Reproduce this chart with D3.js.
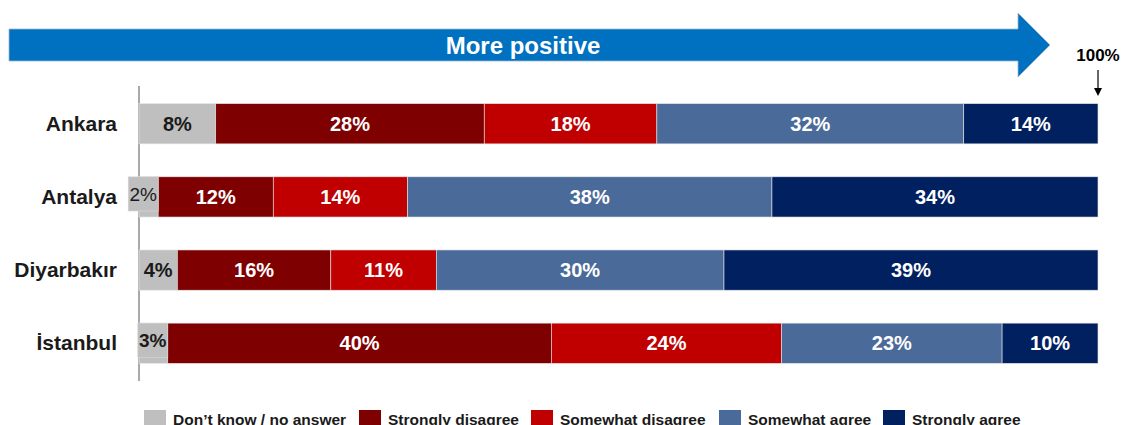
<!DOCTYPE html>
<html>
<head>
<meta charset="utf-8">
<script src="https://cdn.jsdelivr.net/npm/d3@7"></script>
<style>
  body { margin: 0; background: #fff; }
  text { font-family: "Liberation Sans", Arial, sans-serif; }
</style>
</head>
<body>
<svg id="chart" width="1123" height="425"></svg>
<script>
// data
var cities = ["Ankara", "Antalya", "Diyarbakır", "İstanbul"];
var categories = ["Don’t know / no answer", "Strongly disagree", "Somewhat disagree", "Somewhat agree", "Strongly agree"];
var dontKnow = [8, 2, 4, 3];
var stronglyDisagree = [28, 12, 16, 40];
var somewhatDisagree = [18, 14, 11, 24];
var somewhatAgree = [32, 38, 30, 23];
var stronglyAgree = [14, 34, 39, 10];
var colors = ["#BFBFBF", "#7F0000", "#C00000", "#4A6A9A", "#002060"];

var series = [dontKnow, stronglyDisagree, somewhatDisagree, somewhatAgree, stronglyAgree];

var svg = d3.select("#chart");

var x = d3.scaleLinear().domain([0, 100]).range([139, 1098]);
var y = d3.scaleBand().domain(cities).range([89, 378]).paddingInner(0.45).paddingOuter(0.2);

// build stacked table
var rows = cities.map(function(c, i) {
    var r = { city: c };
    categories.forEach(function(k, j) { r[k] = series[j][i]; });
    return r;
});
var stacked = d3.stack().keys(categories)(rows);

//draw the big arrow
var arrow = d3.path();
arrow.moveTo(9, 29);
arrow.lineTo(1018, 29);
arrow.lineTo(1018, 13);
arrow.lineTo(1050, 45);
arrow.lineTo(1018, 77);
arrow.lineTo(1018, 61);
arrow.lineTo(9, 61);
arrow.closePath();
svg.append("path")
    .attr("d", arrow.toString())
    .attr("fill", "#0070C0")
    .attr("stroke", "#9DB7CF")
    .attr("stroke-width", 0.8);

svg.append("text")
    .attr("x", 523)
    .attr("y", 54)
    .attr("text-anchor", "middle")
    .attr("fill", "white")
    .attr("font-size", 24)
    .attr("font-weight", "bold")
    .text("More positive");

//100% marker
svg.append("text")
    .attr("x", x(100))
    .attr("y", 61)
    .attr("text-anchor", "middle")
    .attr("font-size", 17)
    .attr("font-weight", "bold")
    .text("100%");
svg.append("line")
    .attr("x1", x(100)).attr("x2", x(100))
    .attr("y1", 70).attr("y2", 90)
    .attr("stroke", "black").attr("stroke-width", 1.2);
svg.append("path")
    .attr("d", d3.line()([[x(100) - 4, 88], [x(100) + 4, 88], [x(100), 96]]))
    .attr("fill", "black");

//axis line (drawn first so labels sit on top)
svg.append("line")
    .attr("x1", 139).attr("x2", 139)
    .attr("y1", 86).attr("y2", 381)
    .attr("stroke", "#8c8c8c").attr("stroke-width", 1.5);

//bars
var groups = svg.selectAll(".layer")
    .data(stacked).enter()
    .append("g")
    .attr("class", "layer")
    .attr("fill", function(d, i) { return colors[i]; });

groups.selectAll("rect")
    .data(function(d) { return d; })
    .enter().append("rect")
    .attr("x", function(d) { return x(d[0]); })
    .attr("y", function(d) { return y(d.data.city); })
    .attr("width", function(d) { return x(d[1]) - x(d[0]); })
    .attr("height", y.bandwidth())
    .attr("stroke", "#e6e6e6")
    .attr("stroke-width", 0.6);

//labels
stacked.forEach(function(layer, i) {
    layer.forEach(function(d) {
        var v = d[1] - d[0];
        var cx = (x(d[0]) + x(d[1])) / 2;
        var cy = y(d.data.city) + y.bandwidth() / 2;
        var badge = v < 4;
        if (badge) {
            // label badge sticking out left of the small segment
            cx = x(d[1]) - 15;
            svg.append("rect")
                .attr("x", x(d[1]) - 30)
                .attr("y", y(d.data.city))
                .attr("width", 30)
                .attr("height", y.bandwidth() - 6)
                .attr("fill", colors[i])
                .attr("stroke", "#d9d9d9")
                .attr("stroke-width", 0.6);
        }
        svg.append("text")
            .attr("x", cx)
            .attr("y", badge ? cy + 4 : cy + 7)
            .attr("text-anchor", "middle")
            .attr("font-size", badge ? 19 : 20)
            .attr("font-weight", v == 2 ? "normal" : "bold")
            .attr("fill", i == 0 ? "#1a1a1a" : "white")
            .text(v + "%");
    });
});

//city labels
svg.selectAll(".city")
    .data(cities).enter()
    .append("text")
    .attr("class", "city")
    .attr("x", 117)
    .attr("y", function(d) { return y(d) + y.bandwidth() / 2 + 7; })
    .attr("text-anchor", "end")
    .attr("font-size", 21)
    .attr("font-weight", "bold")
    .attr("fill", "#1a1a1a")
    .text(function(d) { return d; });

//legend
var legendX = [144, 359, 531, 719, 883];
var legend = svg.selectAll(".legend")
    .data(categories).enter()
    .append("g")
    .attr("class", "legend")
    .attr("transform", function(d, i) { return "translate(" + legendX[i] + ",410)"; });
legend.append("rect")
    .attr("width", 22).attr("height", 16)
    .attr("fill", function(d, i) { return colors[i]; });
legend.append("text")
    .attr("x", 29)
    .attr("y", 15)
    .attr("font-size", 15.5)
    .attr("font-weight", "bold")
    .attr("fill", "#1a1a1a")
    .text(function(d) { return d; });
</script>
</body>
</html>
